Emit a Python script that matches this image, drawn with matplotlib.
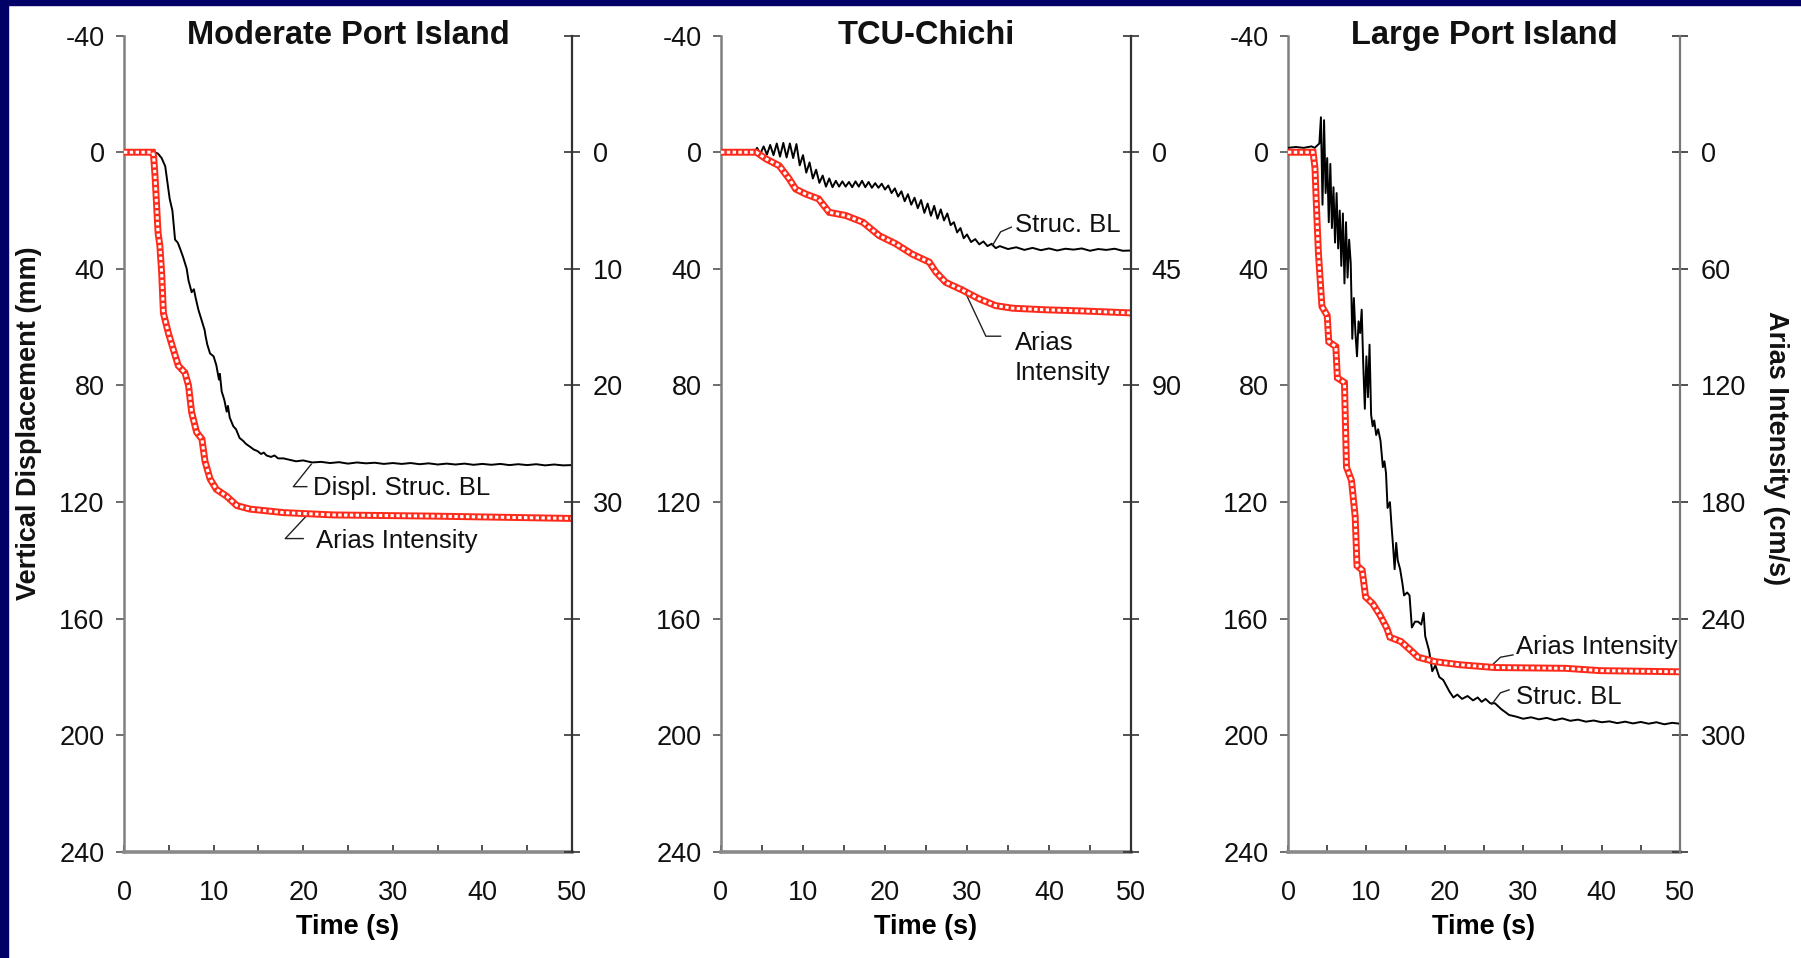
import matplotlib
matplotlib.use("Agg")
import matplotlib.pyplot as plt
from matplotlib.patches import Rectangle

plt.rcParams['font.family'] = ['Liberation Sans', 'DejaVu Sans']

# ---------------- data ----------------
titles = ["Moderate Port Island", "TCU-Chichi", "Large Port Island"]

# Panel 1 : Moderate Port Island
p1_disp_t = [0, 0.5, 1, 1.5, 2, 2.5, 3, 3.3, 3.8, 4.2, 4.6, 5.1, 5.4, 5.7, 6.0, 6.25, 6.6, 7.0, 7.2, 7.55,
             7.8, 8.0, 8.3, 8.6, 9.0, 9.1, 9.3, 9.6, 10.0, 10.3, 10.6, 10.7, 10.9, 11.2, 11.46, 11.6, 11.8,
             12.2, 12.5, 12.9, 13.3, 13.6, 14.06, 14.5, 14.9, 15.3, 15.6, 15.9, 16.4, 16.8, 17.2, 17.8,
             18.5, 19.2, 20, 21, 22, 23, 24, 25, 26, 27, 28, 29, 30, 31, 32, 33, 34, 35, 36, 37, 38, 39,
             40, 41, 42, 43, 44, 45, 46, 47, 48, 49, 50]
p1_disp_mm = [0, -0.3, 0.1, -0.4, -0.2, -0.6, -0.5, -0.2, 0.5, 2, 4.8, 16, 20, 30, 31, 33, 36, 40, 44, 48,
              47, 50, 54, 57, 61, 63, 66, 69, 70, 73, 78, 76, 82, 85, 89, 87, 91,
              94, 95, 98, 99, 100, 101, 102, 102.5, 103.5, 103, 104, 104.5, 104, 105, 105,
              105.5, 106, 105.7, 106.4, 106.2, 106.6, 106.3, 106.8, 106.4, 106.7, 106.5, 106.9, 106.6,
              106.9, 106.6, 107, 106.7, 107.1, 106.8, 107.1, 106.8, 107.2,
              106.9, 107.2, 106.9, 107.3, 107.0, 107.3, 107.0, 107.4, 107.1, 107.4, 107.3]
p1_arias_t = [0, 3.2, 3.3, 3.46, 3.6, 3.8, 4.0, 4.2, 4.4, 4.95, 5.5, 6.06, 6.8, 7.2, 7.55, 8.1, 8.7, 9.04,
              9.6, 10.3, 11.46, 12.6, 14.06, 17.8, 23.4, 34.5, 50]
p1_arias = [0, 0, 0.3, 2.0, 4.0, 6.9, 8.0, 10.3, 13.8, 15.5, 16.9, 18.3, 18.9, 20.0, 22.3, 24.0, 24.6, 26.5,
            28.0, 28.9, 29.5, 30.3, 30.6, 30.9, 31.1, 31.2, 31.4]

# Panel 2 : TCU-Chichi
p2_disp_t = [0, 0.5, 1, 1.5, 2, 2.5, 3, 3.5, 4.0, 4.4, 4.8, 5.2, 5.6, 6.0, 6.4, 6.8, 7.2, 7.6, 8.0, 8.4,
             8.8, 9.2, 9.6, 10.0, 10.4, 10.8, 11.2, 11.6, 12.0, 12.4, 12.8, 13.2, 13.6, 14.0, 14.4, 14.8,
             15.2, 15.6, 16.0, 16.4, 16.8, 17.2, 17.6, 18.0, 18.4, 18.8, 19.2, 19.6, 20.0, 20.4, 20.8,
             21.2, 21.6, 22.0, 22.4, 22.8, 23.2, 23.6, 24.0, 24.4, 24.8, 25.2, 25.6, 26.0, 26.4, 26.8,
             27.2, 27.6, 28.0, 28.4, 28.8, 29.2, 29.6, 30.0, 30.5, 31.0, 31.5, 32.0, 32.5, 33.0, 33.5,
             34, 35, 36, 37, 38, 39, 40, 41, 42, 43, 44, 45, 46, 47, 48, 49, 50]
p2_disp_mm = [0, -0.3, 0.2, -0.2, 0.3, -0.4, 0.2, -0.6, 0.3, -1.5, 0.5, -2.0, 0.8, -2.5, 1.0, -3.0, 1.5,
              -3.2, 1.8, -3.0, 2.0, -2.8, 4.5, 1.0, 7.0, 3.5, 9.0, 6.0, 10.5, 8.0, 11.8, 9.0, 12.0, 9.8,
              11.8, 10.0, 11.8, 10.2, 12.0, 10.0, 11.8, 9.8, 12.0, 10.2, 12.2, 10.6, 12.2, 10.8, 12.8,
              11.4, 14.0, 12.4, 15.2, 13.4, 16.8, 14.4, 18.0, 15.6, 19.2, 16.4, 20.8, 17.6, 21.8, 18.4,
              22.8, 19.6, 23.4, 21.0, 25.0, 24.0, 27.5, 26.0, 29.5, 28.2, 30.8, 29.8, 31.6, 30.6, 32.2,
              31.4, 32.9, 32.2, 33.2, 32.6, 33.5, 32.8, 33.6, 33.0, 33.7, 33.1, 33.4, 33.0, 33.8, 33.2,
              33.5, 33.1, 33.8, 33.7]
p2_arias_t = [0, 4.3, 5.5, 7.1, 8.3, 9.1, 10.3, 11.9, 13.2, 15.2, 17.3, 19.3, 21.3, 23.3, 25.4, 26.2, 27.4,
              29.5, 31.5, 33.5, 35.6, 39.6, 43.7, 50]
p2_arias = [0, 0, 2.6, 5.2, 10.2, 14.2, 16.1, 18.0, 23.2, 24.4, 27.0, 32.2, 35.3, 39.3, 42.4, 46.2, 50.2,
            53.3, 56.6, 59.2, 60.2, 60.8, 61.2, 62.0]

# Panel 3 : Large Port Island
p3_disp_t = [0, 1, 2, 3, 3.4, 4.0, 4.2, 4.4, 4.6, 4.8, 5.0, 5.2, 5.4, 5.6, 5.8, 6.0, 6.2, 6.4, 6.6, 6.8,
             7.0, 7.2, 7.4, 7.6, 7.8, 8.0, 8.2, 8.4, 8.6, 8.8, 9.0, 9.2, 9.4, 9.6, 9.8, 10.0, 10.2, 10.4,
             10.6, 10.8, 11.0, 11.25, 11.5, 11.8, 12.1, 12.3, 12.5, 12.7, 13.0, 13.2, 13.4, 13.6, 13.8,
             14.0, 14.3, 14.6, 14.8, 15.2, 15.5, 15.8, 16.2, 16.6, 17.0, 17.3, 17.5, 18.0, 18.4, 18.8,
             19.3, 19.8, 20.2, 20.6, 21.1, 21.6, 22.2, 22.9, 23.6, 24.2, 24.7, 25.2, 25.8, 26.4, 27.2,
             28.2, 29, 30, 31, 32, 33, 34, 35, 36, 37, 38, 39, 40, 41, 42, 43, 44, 45, 46, 47, 48, 49, 50]
p3_disp_mm = [-1.5, -1.8, -1.5, -2.0, -1.5, -3, -12, 18, -11, 14, 2, 24, 4, 26, 12, 31, 14, 33, 20, 39,
              21, 45, 24, 43, 30, 38, 64, 50, 62, 70, 58, 62, 54, 73, 88, 70, 84, 66,
              90, 94, 92, 97, 95, 99, 108, 106, 110, 122, 120, 128, 135, 143, 134,
              140, 143, 148, 152, 151, 152, 163, 161, 161, 162, 158, 166, 171, 178, 176,
              180, 181, 183, 185, 187, 186, 187.5, 186.5, 188, 187, 188.5, 187.5, 189, 189, 191,
              193, 193.5, 194.3, 193.8, 194.5, 194.0, 194.8, 194.2, 195.0, 194.6, 195.3, 194.9, 195.5,
              195.2, 195.8, 195.3, 195.9, 195.4, 196.0, 195.5, 196.2, 195.7, 196.0]
p3_arias_t = [0, 3.2, 3.44, 3.66, 3.88, 4.33, 5.0, 5.2, 6.1, 6.3, 7.2, 7.46, 8.1, 8.57, 8.8, 9.46, 9.9,
              10.8, 11.7, 12.6, 13.0, 14.4, 15.7, 16.6, 18.8, 22.0, 26.4, 35.4, 39.8, 50]
p3_arias = [0, 0, 8.1, 31.0, 51.8, 79.4, 84.0, 97.5, 100.0, 116.1, 118.5, 162.0, 168.9, 187.5, 212.7,
            215.0, 228.8, 232.2, 237.9, 244.8, 249.5, 251.7, 256.4, 259.8, 262.1, 263.7, 265.1, 265.5,
            266.7, 267.3]

left_ticks = [-40, 0, 40, 80, 120, 160, 200, 240]
right_ticks = [[-10, 0, 10, 20, 30, 40, 50, 60],
               [-45, 0, 45, 90, 135, 180, 225, 270],
               [-60, 0, 60, 120, 180, 240, 300, 360]]
right_labels = [["", "0", "10", "20", "30", "", "", ""],
                ["", "0", "45", "90", "", "", "", ""],
                ["", "0", "60", "120", "180", "240", "300", ""]]
x_ticks = [0, 10, 20, 30, 40, 50]
x_minor = [5, 15, 25, 35, 45]

disp_t = [p1_disp_t, p2_disp_t, p3_disp_t]
disp_mm = [p1_disp_mm, p2_disp_mm, p3_disp_mm]
arias_t = [p1_arias_t, p2_arias_t, p3_arias_t]
arias = [p1_arias, p2_arias, p3_arias]

# ---------------- layout ----------------
W, H = 1801, 958
fig = plt.figure(figsize=(W / 100, H / 100), dpi=100)
fig.patch.set_facecolor('white')

# navy frame (top and left)
fig.patches.append(Rectangle((0, 1 - 5 / H), 1, 5 / H, transform=fig.transFigure,
                             color='#000066', zorder=0))
fig.patches.append(Rectangle((0, 0), 8 / W, 1, transform=fig.transFigure,
                             color='#000066', zorder=0))

lefts = [124, 721, 1288]
widths = [448, 410, 392]
bottom = 1 - 852 / H
height = (852 - 35.6) / H
FS = 19.5      # tick labels / axis labels
FT = 23.5      # titles
FA = 18.5      # annotations

annots = [
    [("Displ. Struc. BL", 21.1, 115, [(20.4, 114.7), (18.9, 114.7), (20.9, 107.0)]),
     ("Arias Intensity", 21.4, 133.3, [(20.0, 132.5), (18.0, 132.5), (20.7, 123.6)])],
    [("Struc. BL", 35.8, 24.9, [(35.4, 25.7), (34.1, 27.3), (33.1, 32.0)]),
     ("Arias\nIntensity", 35.8, 70.5, [(34.1, 63.1), (32.3, 63.1), (29.5, 46.3)])],
    [("Arias Intensity", 29.1, 169.7, [(28.7, 172.4), (27.1, 173.2), (25.5, 177.3)]),
     ("Struc. BL", 29.1, 187.0, [(28.2, 184.4), (27.1, 185.4), (26.0, 189.3)])],
]
right_spine_col = ['#333333', '#333333', '#777777']

for i in range(3):
    ax = fig.add_axes([lefts[i] / W, bottom, widths[i] / W, height])
    ax.set_xlim(0, 50)
    ax.set_ylim(240, -40)
    k = right_ticks[i][2] / 40.0
    ax2 = ax.twinx()
    ax2.set_ylim(240 * k, -40 * k)

    for a in (ax, ax2):
        a.spines['top'].set_visible(False)
        a.patch.set_visible(False)
    ax.spines['right'].set_visible(False)
    ax2.spines['left'].set_visible(False)
    ax2.spines['bottom'].set_visible(False)
    ax.spines['left'].set_color('#808080')
    ax.spines['left'].set_linewidth(1.8)
    ax.spines['bottom'].set_color('#8a8a8a')
    ax.spines['bottom'].set_linewidth(2.6)
    ax2.spines['right'].set_color(right_spine_col[i])
    ax2.spines['right'].set_linewidth(1.6)

    ax.set_yticks(left_ticks)
    ax.set_yticklabels([str(v) for v in left_ticks])
    ax.tick_params(axis='y', direction='out', length=6, width=1.2, color='#555555',
                   labelsize=FS, pad=8, labelcolor='#111111')
    ax.set_xticks(x_ticks)
    ax.set_xticks(x_minor, minor=True)
    ax.tick_params(axis='x', which='both', direction='in', length=5, width=1.2, color='#333333',
                   labelsize=FS, pad=20, labelcolor='#111111')
    ax2.set_yticks(right_ticks[i])
    ax2.set_yticklabels(right_labels[i])
    ax2.tick_params(axis='y', direction='inout', length=12, width=1.2, color='#333333',
                    labelsize=FS, pad=9, labelcolor='#111111')
    ax2.set_xlim(0, 50)

    ax.set_xlabel("Time (s)", fontsize=FS, fontweight='bold', labelpad=6)

    # curves
    ax.plot(disp_t[i], disp_mm[i], color='black', lw=1.4, zorder=3)
    ax2.plot(arias_t[i], arias[i], color='#ff2a1a', lw=5.0, solid_joinstyle='miter', zorder=2)
    ax2.plot(arias_t[i], arias[i], color='white', lw=2.2, dashes=(1.1, 0.8), zorder=2.5)

    # annotations
    for txt, tx, ty, leader in annots[i]:
        ax.text(tx, ty, txt, fontsize=FA, va='center', ha='left', color='#111111',
                linespacing=1.3)
        ax.plot([p[0] for p in leader], [p[1] for p in leader], color='#222222', lw=1.0,
                zorder=4)

    ax.text(0.5, 1.0, titles[i], transform=ax.transAxes, ha='center', va='center',
            fontsize=FT, fontweight='bold', color='#111111')

fig.text(29 / W, 1 - 423 / H, "Vertical Displacement (mm)", rotation=90, ha='center',
         va='center', fontsize=FS, fontweight='bold', color='#111111')
fig.text(1776 / W, 1 - 448 / H, "Arias Intensity (cm/s)", rotation=270, ha='center',
         va='center', fontsize=FS, fontweight='bold', color='#111111')

fig.savefig("out.png", dpi=100, facecolor='white')
